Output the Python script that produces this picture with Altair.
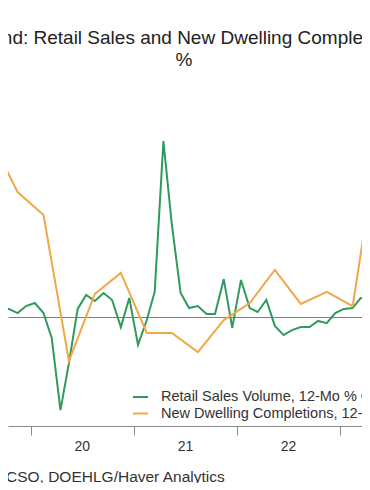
import altair as alt
import pandas as pd

series_names = ["Retail Sales Volume, 12-Mo % Chg", "New Dwelling Completions, 12-Chg % Chg"]

# monthly, Aug 2019 .. Apr 2023 (plotted mid-month)
retail_start = "2019-08-01"
retail_values = [
    3.2, 2.3, 3.7, 1.8, 5.0,
    6.4, 1.8, -9.6, -42.7, -21.1, 3.7, 10.1, 7.3, 11.0, 7.8, -4.6, 8.7,
    -12.8, -1.4, 11.5, 80.7, 42.2, 11.0, 4.1, 5.0, 1.4, 1.4, 17.4, -5.0,
    17.0, 4.1, 2.3, 7.8, -4.1, -8.3, -6.0, -4.6, -4.6, -1.8, -2.8, 1.8,
    3.7, 4.1, 8.7, 7.8,
]
# quarterly, Q3 2019 .. Q2 2023 (plotted mid-quarter)
dwell_start = "2019-08-01"
dwell_values = [81.2, 57.3, 46.8, -20.2, 10.6, 20.2, -7.3, -7.3,
                -16.1, -1.4, 6.4, 21.6, 6.0, 11.5, 5.0, 79.8]

years = ["2020-01-01", "2021-01-01", "2022-01-01", "2023-01-01"]
x_range = ["2019-10-12", "2023-03-20"]
title_text = "Ireland: Retail Sales and New Dwelling Completions"
subtitle_text = "%"
source_text = "Sources: CSO, DOEHLG/Haver Analytics"

GREEN = "#2f9a5e"
ORANGE = "#f0a848"
FONT = "Liberation Sans"


def ms(ts):
    return int(pd.Timestamp(ts).value // 10**6)


retail_dates = pd.date_range(retail_start, periods=len(retail_values), freq="MS") + pd.Timedelta(days=14)
dwell_dates = pd.date_range(dwell_start, periods=len(dwell_values), freq="3MS") + pd.Timedelta(days=14)

df = pd.concat([
    pd.DataFrame({"date": [ms(d) for d in retail_dates], "value": retail_values, "series": series_names[0]}),
    pd.DataFrame({"date": [ms(d) for d in dwell_dates], "value": dwell_values, "series": series_names[1]}),
], ignore_index=True)

x_scale = alt.Scale(type="utc", domain=[ms(d) for d in x_range])
y_scale = alt.Scale(domain=[-50, 111], nice=False, zero=False)

x_axis = alt.Axis(
    values=[ms(d) for d in years],
    format="%y", labelOffset=51, tickSize=9, tickWidth=1, tickColor="#8a8a8a",
    domainColor="#8a8a8a", domainWidth=1.2, grid=False,
    labelFont=FONT, labelFontSize=14, labelColor="#333333", labelPadding=4,
    labelFlush=False, labelOverlap=False,
    title=source_text, titleX=-68, titleY=55, titleAlign="left",
    titleBaseline="alphabetic", titleFont=FONT, titleFontSize=15.5,
    titleFontWeight="normal", titleColor="#333333", titleLimit=1000,
)

# zero line drawn as the only grid line of the (otherwise hidden) y axis
y_axis = alt.Axis(
    values=[0], grid=True, gridColor="#808080", gridWidth=1,
    labels=False, ticks=False, domain=False, title="",
)

chart = alt.Chart(df).mark_line(clip=True, strokeWidth=2).encode(
    x=alt.X("date:T", scale=x_scale, axis=x_axis),
    y=alt.Y("value:Q", scale=y_scale, axis=y_axis),
    color=alt.Color(
        "series:N",
        scale=alt.Scale(domain=series_names, range=[GREEN, ORANGE]),
        legend=alt.Legend(
            orient="none", legendX=124, legendY=313.5,
            symbolType="stroke", symbolSize=225, symbolStrokeWidth=2,
            labelFont=FONT, labelFontSize=14.5, labelColor="#333333",
            labelOffset=12, labelLimit=1000, padding=0, rowPadding=1.5,
        ),
        title="",
    ),
).properties(
    width=354, height=351,
    title=alt.TitleParams(
        text=title_text, subtitle=subtitle_text, anchor="middle",
        font=FONT, subtitleFont=FONT, fontSize=19, subtitleFontSize=19,
        fontWeight="normal", color="#222222", subtitleColor="#222222",
        offset=5.5, subtitlePadding=3, dx=-1,
    ),
    autosize=alt.AutoSizeParams(type="none"),
    padding={"left": 0, "right": 0, "top": 67, "bottom": 57},
).configure_view(strokeWidth=0)

chart.save("out.html", embed_options={"renderer": "svg", "actions": False})
